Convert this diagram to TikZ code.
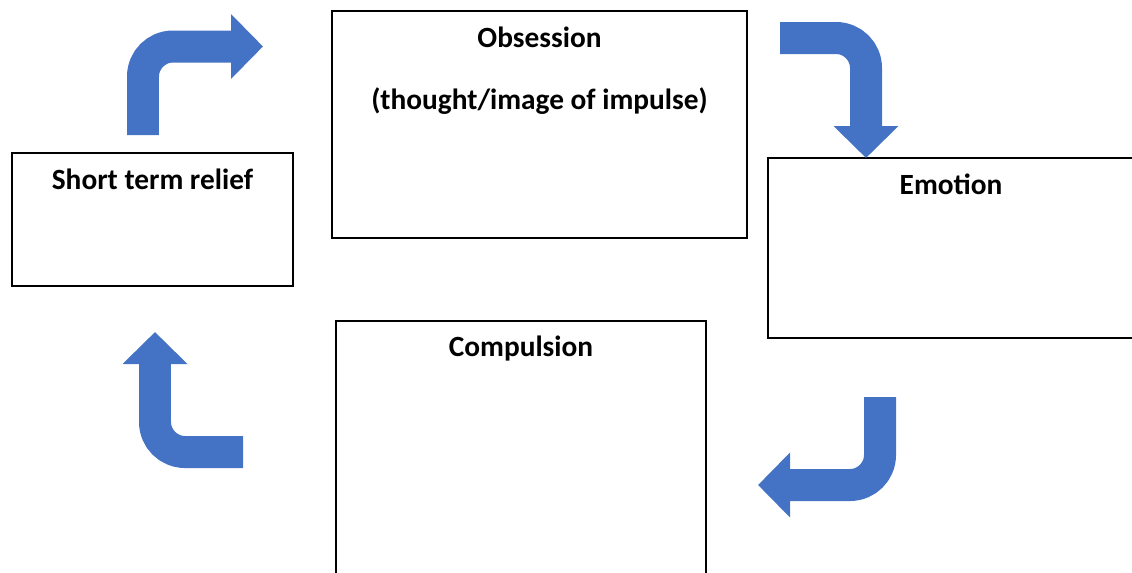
\documentclass[tikz,border=0pt]{standalone}
\usepackage{fontspec}
\setmainfont{Carlito}
\usetikzlibrary{arrows.meta, positioning}
\definecolor{officeblue}{HTML}{4472C4}

\begin{document}
\begin{tikzpicture}[x=0.02cm, y=-0.02cm,
  box/.style={draw, line width=1.1pt, inner sep=0pt},
  title/.style={font=\bfseries\fontsize{16.7}{20}\selectfont, anchor=base, inner sep=0pt},
  bentarrow/.style={draw=officeblue, line width=0.64cm, rounded corners=0.6cm,
    -{Triangle[length=0.64cm, width=1.26cm]}}]
  \useasboundingbox (0,0) rectangle (1132,572);
  \clip (0,0) rectangle (1132,572);

  % boxes
  \node[box, minimum width=8.3cm, minimum height=4.54cm] (obs) at (539.5,124.5) {};
  \node[box, minimum width=5.62cm, minimum height=2.66cm] (relief) at (152.5,219.5) {};
  \node[box, minimum width=7.32cm, minimum height=3.6cm] (emo) at (951,248) {};
  \node[box, minimum width=7.4cm, minimum height=5.58cm] (comp) at (521,460.5) {};

  % titles
  \node[title] (obstitle) at ([yshift=-0.74cm] obs.north) {Obsession};
  \node[title] (obsnote) at ([yshift=-1.98cm] obs.north) {(thought/image of impulse)};
  \node[title] (relieftitle) at ([yshift=-0.74cm] relief.north) {Short term relief};
  \node[title] (emotitle) at ([yshift=-0.74cm] emo.north) {Emotion};
  \node[title] (comptitle) at ([yshift=-0.72cm] comp.north) {Compulsion};

  % bent arrows
  \coordinate (a1s) at (143,135);
  \coordinate (a1e) at (263,46.5);
  \coordinate (a2s) at (780,38);
  \coordinate (a2e) at (866,158);
  \coordinate (a3s) at (880,397);
  \coordinate (a3e) at (758,485);
  \coordinate (a4s) at (243,452);
  \coordinate (a4e) at (155,332);
  \draw[bentarrow] (a1s) |- (a1e);
  \draw[bentarrow] (a2s) -| (a2e);
  \draw[bentarrow] (a3s) |- (a3e);
  \draw[bentarrow] (a4s) -| (a4e);
\end{tikzpicture}
\end{document}
